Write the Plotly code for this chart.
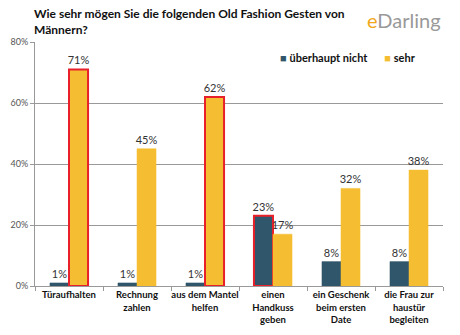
import plotly.graph_objects as go

categories = ["Türaufhalten", "Rechnung<br>zahlen", "aus dem Mantel<br>helfen",
              "einen<br>Handkuss<br>geben", "ein Geschenk<br>beim ersten<br>Date",
              "die Frau zur<br>haustür<br>begleiten"]
ueberhaupt_nicht = [1, 1, 1, 23, 8, 8]
sehr = [71, 45, 62, 17, 32, 38]
highlight_dark = [False, False, False, True, False, False]
highlight_yellow = [True, False, True, False, False, False]
y_ticks = [0, 20, 40, 60, 80]

dark = "#30566B"
yellow = "#F5BE32"
red = "#E8202A"
FONT = "Lato, Open Sans, sans-serif"

fig = go.Figure()
fig.add_trace(go.Bar(
    name="überhaupt nicht", x=categories, y=ueberhaupt_nicht, showlegend=False,
    marker=dict(color=dark,
                line=dict(color=[red if h else dark for h in highlight_dark],
                          width=[2 if h else 0.5 for h in highlight_dark])),
    text=[f"{v}%" for v in ueberhaupt_nicht], textposition="outside",
    constraintext="none",
    textfont=dict(size=11, color="#333333", family=FONT), cliponaxis=False))
fig.add_trace(go.Bar(
    name="sehr", x=categories, y=sehr, showlegend=False,
    marker=dict(color=yellow,
                line=dict(color=[red if h else yellow for h in highlight_yellow],
                          width=[2 if h else 0.5 for h in highlight_yellow])),
    text=[f"{v}%" for v in sehr], textposition="outside",
    constraintext="none",
    textfont=dict(size=11, color="#333333", family=FONT), cliponaxis=False))

fig.update_layout(
    width=460, height=335,
    margin=dict(l=35, r=17, t=42, b=49, autoexpand=False),
    paper_bgcolor="white", plot_bgcolor="white",
    barmode="group", bargap=0.44, bargroupgap=0,
    font=dict(family=FONT, size=9, color="#222"),
    showlegend=False,
    uniformtext=dict(mode=False),
)
fig.update_xaxes(
    showline=True, linecolor="#999", linewidth=1,
    ticks="outside", tickson="boundaries", ticklen=4, tickcolor="#999",
    tickangle=0, automargin=False,
    tickfont=dict(size=9.5, color="#111", family=FONT, weight="bold"),
)
fig.update_yaxes(
    range=[0, 80], tickvals=y_ticks, ticktext=[f"{t}%" for t in y_ticks],
    showgrid=True, gridcolor="#999", gridwidth=1,
    showline=True, linecolor="#999", linewidth=1,
    ticks="outside", ticklen=4, tickcolor="#999", automargin=False,
    tickfont=dict(size=9, color="#555", family=FONT), zeroline=False,
)

fig.add_annotation(xref="paper", yref="paper", x=-0.007, y=1.0, yshift=38, xanchor="left", yanchor="top",
                   text="<b>Wie sehr mögen Sie die folgenden Old Fashion Gesten von<br>Männern?</b>",
                   showarrow=False, align="left",
                   font=dict(size=12, color="#111", family=FONT))
fig.add_annotation(xref="paper", yref="paper", x=1.0, y=1.0, yshift=36, xanchor="right", yanchor="top",
                   text="<span style='color:#F0A818'>e</span>Darling",
                   showarrow=False,
                   font=dict(size=20, color="#999", family=FONT))
fig.add_annotation(xref="paper", yref="paper", x=0.595, y=0.935, xanchor="left", yanchor="middle",
                   text=f"<span style='color:{dark}'>■</span> <b>überhaupt nicht</b>"
                        f"      <span style='color:{yellow}'>■</span> <b>sehr</b>",
                   showarrow=False,
                   font=dict(size=11, color="#111", family=FONT))

fig.write_html("out.html")
